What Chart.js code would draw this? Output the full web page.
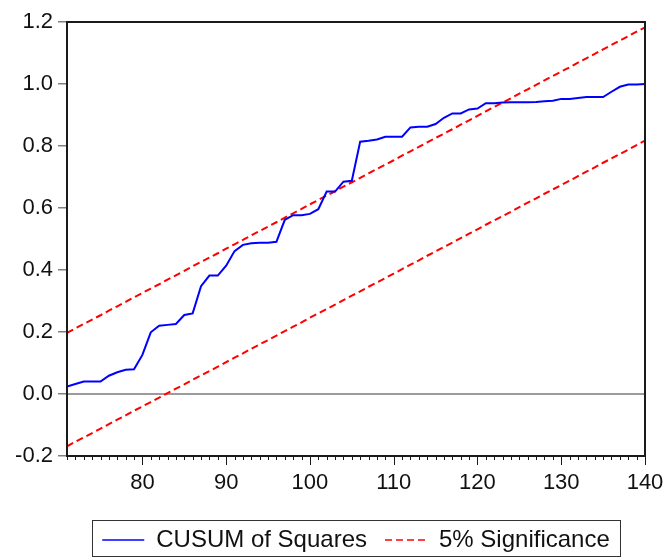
<!DOCTYPE html>
<html>
<head>
<meta charset="utf-8">
<script src="https://cdn.jsdelivr.net/npm/chart.js@4/dist/chart.umd.min.js"></script>
<style>
  html, body { margin: 0; padding: 0; background: #fff; overflow: hidden; }
  #wrap { width: 666px; height: 558px; position: relative; }
</style>
</head>
<body>
<div id="wrap"><canvas id="cusum"></canvas></div>
<script>
// observations
var obs = [71, 72, 73, 74, 75, 76, 77, 78, 79, 80,
	81, 82, 83, 84, 85, 86, 87, 88, 89, 90,
	91, 92, 93, 94, 95, 96, 97, 98, 99, 100,
	101, 102, 103, 104, 105, 106, 107, 108, 109, 110,
	111, 112, 113, 114, 115, 116, 117, 118, 119, 120,
	121, 122, 123, 124, 125, 126, 127, 128, 129, 130,
	131, 132, 133, 134, 135, 136, 137, 138, 139, 140];

var cusumSq = [0.024, 0.032, 0.040, 0.040, 0.040, 0.059, 0.070, 0.078, 0.080, 0.126,
	0.199, 0.220, 0.223, 0.226, 0.255, 0.260, 0.348, 0.382, 0.382, 0.414,
	0.461, 0.481, 0.486, 0.488, 0.488, 0.491, 0.562, 0.577, 0.577, 0.581,
	0.596, 0.653, 0.653, 0.685, 0.688, 0.814, 0.817, 0.821, 0.830, 0.830,
	0.830, 0.860, 0.862, 0.862, 0.871, 0.891, 0.905, 0.905, 0.918, 0.921,
	0.938, 0.938, 0.940, 0.941, 0.941, 0.941, 0.942, 0.944, 0.946, 0.952,
	0.952, 0.955, 0.958, 0.958, 0.958, 0.975, 0.991, 0.998, 0.998, 1.000];

var upper5 = [0.197, 0.212, 0.226, 0.240, 0.254, 0.269, 0.283, 0.297, 0.312, 0.326,
	0.340, 0.354, 0.369, 0.383, 0.397, 0.412, 0.426, 0.440, 0.454, 0.469,
	0.483, 0.497, 0.512, 0.526, 0.540, 0.554, 0.569, 0.583, 0.597, 0.612,
	0.626, 0.640, 0.654, 0.669, 0.683, 0.697, 0.712, 0.726, 0.740, 0.754,
	0.769, 0.783, 0.797, 0.812, 0.826, 0.840, 0.854, 0.869, 0.883, 0.897,
	0.912, 0.926, 0.940, 0.954, 0.969, 0.983, 0.997, 1.012, 1.026, 1.040,
	1.054, 1.069, 1.083, 1.097, 1.112, 1.126, 1.140, 1.154, 1.169, 1.183];

var lower5 = [-0.169, -0.154, -0.140, -0.126, -0.112, -0.097, -0.083, -0.069, -0.054, -0.040,
	-0.026, -0.012, 0.003, 0.017, 0.031, 0.046, 0.060, 0.074, 0.088, 0.103,
	0.117, 0.131, 0.146, 0.160, 0.174, 0.188, 0.203, 0.217, 0.231, 0.246,
	0.260, 0.274, 0.288, 0.303, 0.317, 0.331, 0.346, 0.360, 0.374, 0.388,
	0.403, 0.417, 0.431, 0.446, 0.460, 0.474, 0.488, 0.503, 0.517, 0.531,
	0.546, 0.560, 0.574, 0.588, 0.603, 0.617, 0.631, 0.646, 0.660, 0.674,
	0.688, 0.703, 0.717, 0.731, 0.746, 0.760, 0.774, 0.788, 0.803, 0.817];

var xTicks = [80, 90, 100, 110, 120, 130, 140];
var yTicks = [-0.2, 0.0, 0.2, 0.4, 0.6, 0.8, 1.0, 1.2];

function pts(vals) {
	return obs.map(function(o, i) { return {x: o, y: vals[i]}; });
}

// frame, zero line, minor ticks on x, box round the legend
var decor = {
	id: 'decor',
	beforeDatasetsDraw: function(chart) {
		var ctx = chart.ctx, a = chart.chartArea, y0 = chart.scales.y.getPixelForValue(0);
		ctx.save();
		ctx.strokeStyle = '#7a7a7a';
		ctx.lineWidth = 1.5;
		ctx.beginPath();
		ctx.moveTo(a.left, y0);
		ctx.lineTo(a.right, y0);
		ctx.stroke();
		ctx.restore();
	},
	afterDraw: function(chart) {
		var ctx = chart.ctx, a = chart.chartArea, xs = chart.scales.x;
		ctx.save();
		ctx.strokeStyle = '#1a1a1a';
		ctx.lineWidth = 1;
		obs.forEach(function(o) {
			var px = Math.round(xs.getPixelForValue(o)) + 0.5;
			var len = (o % 10 === 0) ? 9 : 4;
			ctx.beginPath();
			ctx.moveTo(px, a.bottom);
			ctx.lineTo(px, a.bottom + len);
			ctx.stroke();
		});
		ctx.lineWidth = 2;
		ctx.strokeRect(a.left, a.top, a.right - a.left, a.bottom - a.top);

		var hb = chart.legend.legendHitBoxes;
		if (hb && hb.length) {
			var first = hb[0], last = hb[hb.length - 1];
			var cy = first.top + first.height / 2;
			ctx.lineWidth = 1;
			ctx.strokeStyle = '#333';
			var l = Math.round(first.left - 10) + 0.5;
			var r = Math.round(last.left + last.width + 10) + 0.5;
			var t = Math.round(cy - 20) + 0.5;
			var b = Math.min(Math.round(cy + 18) + 0.5, chart.height - 1.5);
			ctx.strokeRect(l, t, r - l, b - t);
		}
		ctx.restore();
	}
};

var canvas = document.getElementById('cusum');
var chart = new Chart(canvas, {
	type: 'line',
	data: {
		datasets: [{
			label: 'CUSUM of Squares',
			data: pts(cusumSq),
			borderColor: '#0000ff',
			backgroundColor: '#0000ff',
			borderWidth: 2,
			pointRadius: 0,
			tension: 0,
			fill: false
		}, {
			label: '5% Significance',
			data: pts(upper5),
			borderColor: '#ff0000',
			backgroundColor: '#ff0000',
			borderWidth: 2,
			borderDash: [7, 4],
			pointRadius: 0,
			tension: 0,
			fill: false
		}, {
			label: 'lower',
			data: pts(lower5),
			borderColor: '#ff0000',
			borderWidth: 2,
			borderDash: [7, 4],
			pointRadius: 0,
			tension: 0,
			fill: false
		}]
	},
	options: {
		responsive: true,
		maintainAspectRatio: false,
		animation: false,
		layout: { padding: { top: 22, right: 21, left: 0, bottom: -4 } },
		plugins: {
			tooltip: { enabled: false },
			legend: {
				position: 'bottom',
				fullSize: false,
				labels: {
					usePointStyle: true,
					pointStyle: 'line',
					pointStyleWidth: 42,
					padding: 18,
					color: '#111',
					font: { family: 'Liberation Sans, Arial, sans-serif', size: 24 },
					generateLabels: function(chart) {
						return chart.data.datasets.slice(0, 2).map(function(ds, i) {
							return {
								text: ds.label,
								datasetIndex: i,
								strokeStyle: ds.borderColor,
								fillStyle: ds.borderColor,
								fontColor: '#111',
								lineWidth: 1.5,
								lineDash: ds.borderDash || [],
								pointStyle: 'line',
								hidden: false
							};
						});
					}
				}
			}
		},
		scales: {
			x: {
				type: 'linear',
				min: 71,
				max: 140,
				afterBuildTicks: function(axis) {
					axis.ticks = xTicks.map(function(v) { return {value: v}; });
				},
				afterFit: function(axis) {
					axis.height = 54;
					axis.paddingLeft = 0;
					axis.paddingRight = 0;
				},
				grid: { display: false, drawTicks: true, tickLength: 9 },
				border: { display: false },
				ticks: {
					padding: 5,
					maxRotation: 0,
					autoSkip: false,
					color: '#111',
					font: { family: 'Liberation Sans, Arial, sans-serif', size: 22 }
				}
			},
			y: {
				min: -0.2,
				max: 1.2,
				afterBuildTicks: function(axis) {
					axis.ticks = yTicks.map(function(v) { return {value: v}; });
				},
				afterFit: function(axis) {
					axis.width = 67;
					axis.paddingTop = 0;
					axis.paddingBottom = 0;
				},
				grid: {
					display: true,
					drawOnChartArea: false,
					drawTicks: true,
					tickLength: 9,
					color: '#808080',
					lineWidth: 1.5
				},
				border: { display: false },
				ticks: {
					padding: 5,
					color: '#111',
					font: { family: 'Liberation Sans, Arial, sans-serif', size: 22 },
					callback: function(v) { return v.toFixed(1); }
				}
			}
		}
	},
	plugins: [decor]
});
</script>
</body>
</html>
